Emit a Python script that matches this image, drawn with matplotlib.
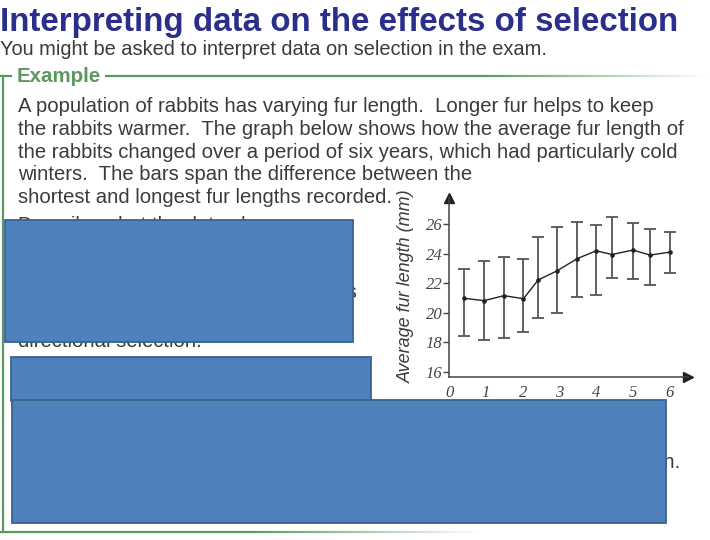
import numpy as np
import matplotlib
matplotlib.use('Agg')
import matplotlib.pyplot as plt
from matplotlib.patches import Rectangle
from matplotlib.collections import LineCollection

# data (years, fur length in mm)
years = [0.40, 0.95, 1.49, 2.02, 2.42, 2.93, 3.49, 4.00, 4.43, 5.00, 5.47, 6.00]
mean_len = [20.98, 20.82, 21.16, 20.95, 22.22, 22.83, 23.67, 24.19, 23.94, 24.24, 23.90, 24.10]
max_len = [22.95, 23.53, 23.76, 23.65, 25.12, 25.77, 26.11, 25.91, 26.47, 26.05, 25.68, 25.48]
min_len = [18.42, 18.15, 18.31, 18.69, 19.67, 19.96, 21.07, 21.19, 22.33, 22.27, 21.90, 22.67]
x_ticks = [0, 1, 2, 3, 4, 5, 6]
y_ticks = [16, 18, 20, 22, 24, 26]

title = 'Interpreting data on the effects of selection'
subtitle = 'You might be asked to interpret data on selection in the exam.'
body = ['A population of rabbits has varying fur length.  Longer fur helps to keep',
        'the rabbits warmer.  The graph below shows how the average fur length of',
        'the rabbits changed over a period of six years, which had particularly cold',
        'winters.  The bars span the difference between the',
        'shortest and longest fur lengths recorded.']

W, H = 710, 540
SANS = ['Liberation Sans', 'DejaVu Sans']
INK = '#3b3b3b'
GREEN = '#5b9a5f'
BODY_SIZE = 14.6

fig = plt.figure(figsize=(W / 100, H / 100), dpi=100)

# page layer in pixel coordinates (y downwards)
page = fig.add_axes([0, 0, 1, 1])
page.set_xlim(0, W)
page.set_ylim(H, 0)
page.axis('off')

page.text(0, 31.5, title, color='#2b2f8c', fontsize=23.9, fontweight='bold',
          family=SANS, va='baseline')
page.text(0, 55, subtitle, color=INK, fontsize=14.45, family=SANS, va='baseline')

# green "Example" frame, fading out to the right
def fade_line(x0, x1, y, fade_from):
    xs = np.linspace(x0, x1, 120)
    segs = [[(xs[i], y), (xs[i + 1], y)] for i in range(len(xs) - 1)]
    alphas = np.clip((x1 - xs[:-1]) / (x1 - fade_from), 0, 1)
    cols = [matplotlib.colors.to_rgba(GREEN, a) for a in alphas]
    page.add_collection(LineCollection(segs, colors=cols, linewidths=1.6))

page.plot([0, 11], [75.5, 75.5], color=GREEN, lw=1.6)
page.plot([3, 3], [75.5, 532], color=GREEN, lw=1.6)
fade_line(105, 705, 75.5, 480)
fade_line(0, 480, 532, 250)
page.text(17, 82, 'Example', color=GREEN, fontsize=14.8, fontweight='bold',
          family=SANS, va='baseline')

for i, line in enumerate(body):
    page.text(18, 112 + i * 22.8, line, color=INK, fontsize=BODY_SIZE, family=SANS,
              va='baseline')

# text that sits under the covering boxes (only edges peek out)
page.text(18, 231, 'Describe what the data shows.', color=INK, fontsize=BODY_SIZE,
          family=SANS, va='baseline')
page.text(357, 298, 'length increases. This shows', color=INK,
          fontsize=BODY_SIZE, family=SANS, va='baseline', ha='right')
page.text(18, 347, 'directional selection.', color=INK, fontsize=BODY_SIZE,
          family=SANS, va='baseline')
page.text(680, 468, 'so this is directional selection.',
          color=INK, fontsize=BODY_SIZE, family=SANS, va='baseline', ha='right')

# blue boxes covering the answers
for (x0, y0, x1, y1) in [(5, 220, 353, 342), (11, 357, 371, 401), (12, 400, 666, 523)]:
    page.add_patch(Rectangle((x0, y0), x1 - x0, y1 - y0, facecolor='#4f81bd',
                             edgecolor='#3a6291', lw=1.3, zorder=5))

# the graph
ax_left, ax_right = 449.3, 688
ax_bottom, ax_top = 377, 198
ax = fig.add_axes([ax_left / W, 1 - ax_bottom / H, (ax_right - ax_left) / W,
                   (ax_bottom - ax_top) / H])
ax.patch.set_alpha(0)
ax.set_xlim(0, 6.5)
ax.set_ylim(15.66, 27.76)

ax.errorbar(years, mean_len,
            yerr=[np.subtract(mean_len, min_len), np.subtract(max_len, mean_len)],
            fmt='none', ecolor='#555555', elinewidth=1.3, capsize=4.5, capthick=1.3)
ax.plot(years, mean_len, color='#222222', lw=1.0, marker='o', ms=2.3)

for s in ['top', 'right']:
    ax.spines[s].set_visible(False)
for s in ['left', 'bottom']:
    ax.spines[s].set_color('#444444')
    ax.spines[s].set_linewidth(1.1)
ax.plot(0, 1, marker='^', color='#222222', ms=7, transform=ax.transAxes, clip_on=False)
ax.plot(1, 0, marker='>', color='#222222', ms=7, transform=ax.transAxes, clip_on=False)

tick_font = dict(family=['Liberation Serif', 'DejaVu Serif'], style='italic',
                 size=12, color='#444444')
ax.set_yticks(y_ticks)
ax.set_yticklabels([str(v) for v in y_ticks], **tick_font)
ax.set_xticks(x_ticks)
ax.set_xticklabels([str(v) for v in x_ticks], **tick_font)
ax.tick_params(axis='y', length=4, width=1.0, color='#444444', pad=1)
ax.tick_params(axis='x', length=0, pad=6)

page.text(406, 286, 'Average fur length (mm)', rotation=90, ha='center', va='center',
          color=INK, fontsize=13, style='italic', family=SANS)

fig.savefig('out.png', dpi=100)
